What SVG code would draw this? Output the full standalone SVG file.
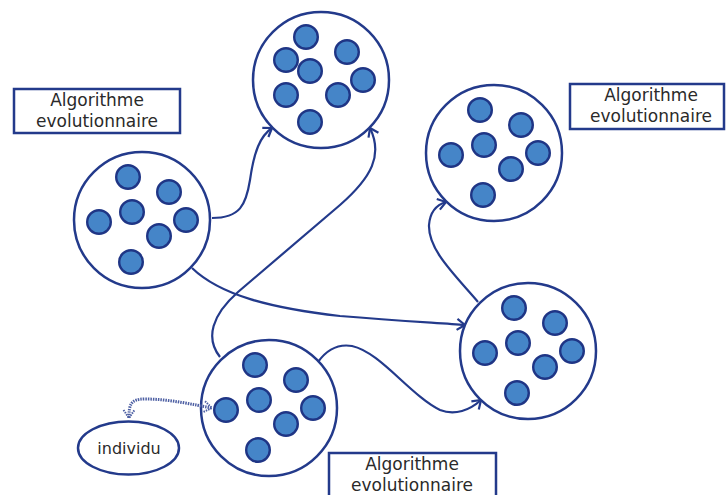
<svg xmlns="http://www.w3.org/2000/svg" width="726" height="495" viewBox="0 0 726 495">
  <style>
    .pop { fill: #ffffff; stroke: #233a8b; stroke-width: 2.5; }
    .ind { fill: #4585c8; stroke: #1f3585; stroke-width: 2.4; }
    .box { fill: #ffffff; stroke: #233a8b; stroke-width: 2.5; }
    .lbl { font-family: "DejaVu Sans", Verdana, sans-serif; font-size: 17px; fill: #2a2a2a; text-anchor: middle; }
    .edge { fill: none; stroke: #233a8b; stroke-width: 2.2; marker-end: url(#arr); }
    .link { fill: none; stroke: #4d5fa3; stroke-width: 3; stroke-dasharray: 1.5 1; marker-start: url(#arrs); marker-end: url(#arrd); }
  </style>
  <defs>
    <marker id="arr" viewBox="-10 -7 12 14" markerWidth="12" markerHeight="14" refX="0" refY="0" orient="auto" markerUnits="userSpaceOnUse">
      <path d="M -8 -5.5 L 0 0 L -8 5.5" fill="none" stroke="#233a8b" stroke-width="2.2"/>
    </marker>
    <marker id="arrd" viewBox="-10 -7 12 14" markerWidth="12" markerHeight="14" refX="0" refY="0" orient="auto" markerUnits="userSpaceOnUse">
      <path d="M -8 -5.5 L 0 0 L -8 5.5" fill="none" stroke="#4d5fa3" stroke-width="2" stroke-dasharray="1.5 1"/>
    </marker>
    <marker id="arrs" viewBox="-2 -7 12 14" markerWidth="12" markerHeight="14" refX="0" refY="0" orient="auto" markerUnits="userSpaceOnUse">
      <path d="M 8 -5.5 L 0 0 L 8 5.5" fill="none" stroke="#4d5fa3" stroke-width="2" stroke-dasharray="1.5 1"/>
    </marker>
    <!-- seven-member population -->
    <g id="pop7">
      <circle class="pop" cx="0" cy="0" r="68"/>
      <circle class="ind" cx="-14" cy="-43" r="11.8"/>
      <circle class="ind" cx="27" cy="-28" r="11.8"/>
      <circle class="ind" cx="-43" cy="2" r="11.8"/>
      <circle class="ind" cx="-10" cy="-8" r="11.8"/>
      <circle class="ind" cx="44" cy="0" r="11.8"/>
      <circle class="ind" cx="17" cy="16" r="11.8"/>
      <circle class="ind" cx="-11" cy="42" r="11.8"/>
    </g>
  </defs>

  <!-- evolution arrows between populations -->
  <g id="connectors">
    <path class="edge" d="M 212 218 C 240 218 246 205 250 180 C 254 152 260 136 272 128"/>
    <path class="edge" d="M 220 357 C 205 338 212 315 238 292 L 340 205 C 372 177 383 155 370 128"/>
    <path class="edge" d="M 192 268 C 220 295 270 308 340 316 C 400 321 440 323 465 325"/>
    <path class="edge" d="M 478 302 C 455 275 428 250 429 225 C 430 212 436 205 446 202"/>
    <path class="edge" d="M 318 362 C 328 348 340 344 352 346 C 380 352 410 395 440 410 C 455 416 470 410 481 400"/>
  </g>

  <!-- populations -->
  <use id="pop-left" href="#pop7" x="142" y="220"/>
  <g id="pop-top">
    <circle class="pop" cx="321" cy="80" r="68"/>
    <circle class="ind" cx="306" cy="37" r="11.8"/>
    <circle class="ind" cx="347" cy="52" r="11.8"/>
    <circle class="ind" cx="286" cy="60" r="11.8"/>
    <circle class="ind" cx="310" cy="71" r="11.8"/>
    <circle class="ind" cx="363" cy="80" r="11.8"/>
    <circle class="ind" cx="286" cy="95" r="11.8"/>
    <circle class="ind" cx="338" cy="95" r="11.8"/>
    <circle class="ind" cx="310" cy="122" r="11.8"/>
  </g>
  <use id="pop-right-top" href="#pop7" x="494" y="153"/>
  <use id="pop-right-bottom" href="#pop7" x="528" y="351"/>
  <use id="pop-bottom" href="#pop7" x="269" y="408"/>

  <!-- single individual -->
  <g id="individu">
    <ellipse class="pop" cx="128.5" cy="448" rx="50.5" ry="26.5"/>
    <text class="lbl" x="129" y="453.5" style="font-size:16px">individu</text>
  </g>

  <!-- individual-to-population link, drawn over the population -->
  <g id="connector-individu">
    <path class="link" d="M 129 418 C 129 405 130 399 145 399 C 170 399 195 405 212 408"/>
  </g>

  <!-- labels -->
  <g id="label-left">
    <rect class="box" x="14" y="89" width="166" height="44"/>
    <text class="lbl" x="97" y="106">Algorithme</text>
    <text class="lbl" x="97" y="127">evolutionnaire</text>
  </g>
  <g id="label-right">
    <rect class="box" x="570" y="84" width="154" height="45"/>
    <text class="lbl" x="651" y="101">Algorithme</text>
    <text class="lbl" x="651" y="122">evolutionnaire</text>
  </g>
  <g id="label-bottom">
    <rect class="box" x="329" y="453" width="167" height="50"/>
    <text class="lbl" x="412" y="470">Algorithme</text>
    <text class="lbl" x="412" y="491">evolutionnaire</text>
  </g>
</svg>
